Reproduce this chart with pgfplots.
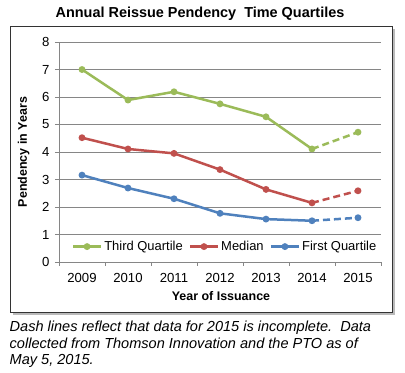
\documentclass[border=0pt]{standalone}
\usepackage{pgfplots}
\pgfplotsset{compat=1.18}
\usepackage{fontspec}
\setmainfont{Liberation Sans}
\usetikzlibrary{shadows}
\definecolor{cgreen}{HTML}{9BBB59}
\definecolor{cred}{HTML}{C0504D}
\definecolor{cblue}{HTML}{4F81BD}
\definecolor{cgrid}{HTML}{868686}
\begin{document}
\begin{tikzpicture}[x=1bp,y=1bp]
\useasboundingbox (0,0) rectangle (405,373);
\draw[black!80, line width=0.8bp, fill=white, drop shadow={shadow xshift=2.5bp, shadow yshift=-2.5bp, opacity=0.45, fill=black!60}] (10,60.5) rectangle (392.5,346.5);
\node[font=\fontsize{14.5}{16}\selectfont\bfseries, anchor=base] at (200,355.7) {Annual Reissue Pendency\ \ Time Quartiles};
\begin{axis}[
  at={(59bp,111bp)}, anchor=south west,
  scale only axis, width=322bp, height=220bp,
  xmin=-0.5, xmax=6.5, ymin=0, ymax=8,
  axis x line*=bottom, axis y line*=left,
  axis line style={cgrid, line width=0.8bp},
  xtick={0,...,6}, xticklabels={2009,2010,2011,2012,2013,2014,2015},
  major x tick style={draw=none},
  minor xtick={-0.5,0.5,...,6.5},
  minor x tick style={cgrid, line width=0.8bp},
  minor tick length=4bp,
  ytick={0,...,8},
  major tick length=4bp,
  tick align=outside,
  y tick style={cgrid, line width=0.8bp},
  ymajorgrids, grid style={cgrid, line width=0.8bp},
  tick label style={font=\fontsize{13.2}{15}\selectfont},
  /pgf/number format/assume math mode=true,
  xticklabel style={yshift=-4bp},
  yticklabel style={xshift=-2bp},
  xlabel={Year of Issuance},
  xlabel style={at={(axis description cs:0.503,0)}, anchor=base, yshift=-38.7bp, font=\fontsize{12.5}{14}\selectfont\bfseries},
  ylabel={Pendency in Years},
  ylabel style={at={(axis description cs:-0.11,0.5)}, anchor=center, rotate=0, font=\fontsize{12.5}{14}\selectfont\bfseries},
  every axis plot/.append style={line width=2.5bp, mark=*, mark size=2.1bp},
  legend style={at={(axis cs:3.11,0.56)}, anchor=center, draw=none, fill=none, legend columns=3,
    font=\fontsize{13}{15}\selectfont, /tikz/every even column/.append style={column sep=4bp}},
  legend image code/.code={\draw[#1, mark repeat=2, mark phase=2] plot coordinates {(0bp,0bp) (14bp,0bp) (28bp,0bp)};},
  clip=false,
]
\addplot[cgreen] coordinates {(0,7.0) (1,5.89) (2,6.19) (3,5.75) (4,5.28) (5,4.11)};
\addlegendentry{Third Quartile}
\addplot[cred] coordinates {(0,4.52) (1,4.11) (2,3.95) (3,3.36) (4,2.64) (5,2.15)};
\addlegendentry{Median}
\addplot[cblue] coordinates {(0,3.16) (1,2.69) (2,2.30) (3,1.77) (4,1.56) (5,1.50)};
\addlegendentry{First Quartile}
\addplot[cgreen, dash pattern=on 7bp off 4bp, mark=none, forget plot] coordinates {(5,4.11) (6,4.72)};
\addplot[cgreen, only marks, forget plot] coordinates {(6,4.72)};
\addplot[cred, dash pattern=on 7bp off 4bp, mark=none, forget plot] coordinates {(5,2.15) (6,2.59)};
\addplot[cred, only marks, forget plot] coordinates {(6,2.59)};
\addplot[cblue, dash pattern=on 7bp off 4bp, mark=none, forget plot] coordinates {(5,1.50) (6,1.61)};
\addplot[cblue, only marks, forget plot] coordinates {(6,1.61)};
\end{axis}
\begin{scope}[font=\fontsize{14.6}{16}\selectfont\itshape]
\node[anchor=base west, inner sep=0] at (9.5,41.3) {Dash lines reflect that data for 2015 is incomplete.\ \ Data};
\node[anchor=base west, inner sep=0] at (9.5,24.7) {collected from Thomson Innovation and the PTO as of};
\node[anchor=base west, inner sep=0] at (9.5,9) {May 5, 2015.};
\end{scope}
\end{tikzpicture}
\end{document}
